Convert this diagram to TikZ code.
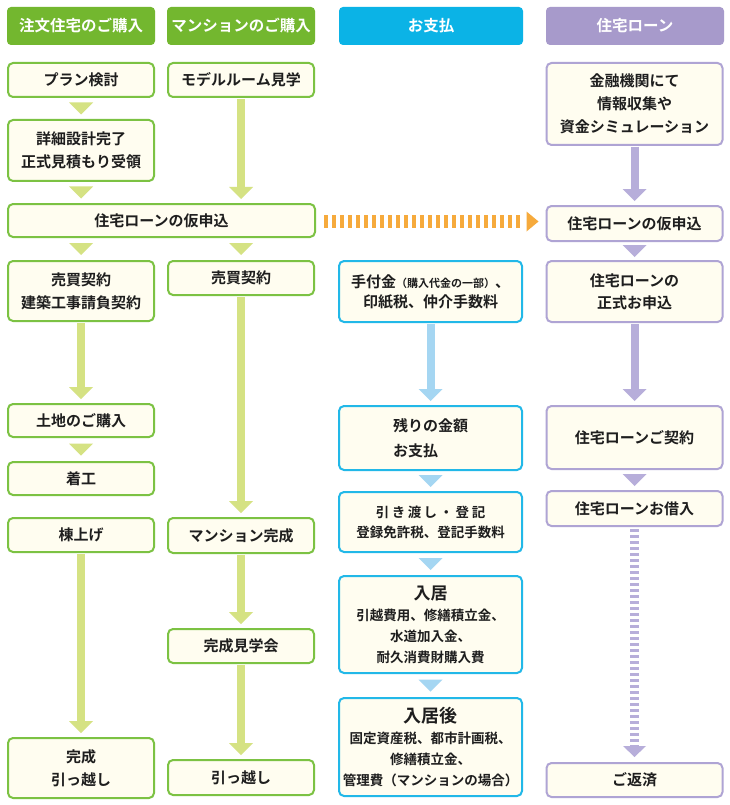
\documentclass[tikz,border=0pt]{standalone}
\usepackage{fontspec}
\setmainfont{Noto Sans CJK JP}[BoldFont={Noto Sans CJK JP Bold}]
\usetikzlibrary{arrows.meta,calc}
\definecolor{gHead}{HTML}{73B72F}
\definecolor{gLine}{HTML}{7CC243}
\definecolor{gArr}{HTML}{D5E283}
\definecolor{bHead}{HTML}{0BB3E6}
\definecolor{bLine}{HTML}{22B8E8}
\definecolor{bArr}{HTML}{A5D6F2}
\definecolor{pHead}{HTML}{A79ACB}
\definecolor{pLine}{HTML}{AFA4D4}
\definecolor{pArr}{HTML}{B7AEDA}
\definecolor{oArr}{HTML}{F6AA3C}
\definecolor{cream}{HTML}{FFFDF0}
\definecolor{ink}{HTML}{1E1E1E}
\begin{document}
\begin{tikzpicture}[x=1pt,y=-1pt,
  head/.style={fill=#1, rounded corners=4pt, text=white, font=\bfseries\fontsize{15.5}{18}\selectfont, minimum height=38pt, inner sep=0pt},
  box/.style={draw=#1, line width=2pt, fill=cream, rounded corners=5pt, text=ink, font=\bfseries\fontsize{15}{23}\selectfont, align=center, inner sep=0pt},
  gbox/.style={box=gLine, minimum width=146pt},
  bbox/.style={box=bLine, minimum width=183pt},
  pbox/.style={box=pLine, minimum width=176pt},
  tri/.style={fill=#1, to path={let \p1=($(\tikztostart)!0.5!(\tikztotarget)$) in (\x1-12pt,\y1+6pt) -- (\x1+12pt,\y1+6pt) -- (\x1,\y1-6pt) -- cycle}},
  shaft/.style={draw=#1, line width=8pt, -{Triangle[width=24pt,length=12pt,line width=0pt]}, shorten <=1pt, shorten >=4pt},
  small/.style={font=\bfseries\fontsize{13.5}{21}\selectfont}
]
\useasboundingbox (0,0) rectangle (730,805);
\fill[white] (0,0) rectangle (730,805);

% headers
\node[head=gHead, minimum width=148pt] (hd1) at (81,26) {注文住宅のご購入};
\node[head=gHead, minimum width=148pt] (hd2) at (241,26) {マンションのご購入};
\node[head=bHead, minimum width=184pt] (hd3) at (431,26) {お支払};
\node[head=pHead, minimum width=178pt] (hd4) at (635,26) {住宅ローン};

% boxes
\node[gbox, minimum height=34pt] (A1) at (81,80) {プラン検討};
\node[gbox, minimum height=34pt] (A2) at (241,80) {モデルルーム見学};
\node[pbox, minimum height=82pt] (A3) at (634.5,104) {金融機関にて\\情報収集や\\資金シミュレーション};
\node[gbox, minimum height=61pt] (B1) at (81,150.5) {詳細設計完了\\正式見積もり受領};
\node[gbox, minimum width=307pt, minimum height=33pt] (C1) at (161.5,220.5) {住宅ローンの仮申込};
\node[pbox, minimum height=35pt] (C4) at (634.5,223.5) {住宅ローンの仮申込};
\node[gbox, minimum height=60pt] (D1) at (81,291) {売買契約\\建築工事請負契約};
\node[gbox, minimum height=34pt] (D2) at (241,278) {売買契約};
\node[bbox, minimum height=61pt, font=\bfseries\fontsize{15}{20}\selectfont] (D3) at (430.5,291.5) {手付金{\fontsize{11}{20}\selectfont（購入代金の一部）}、\\印紙税、仲介手数料};
\node[pbox, minimum height=61pt, font=\bfseries\fontsize{15}{22}\selectfont] (D4) at (634.5,291.5) {住宅ローンの\\正式お申込};
\node[gbox, minimum height=33pt] (E1) at (81,420.5) {土地のご購入};
\node[bbox, minimum height=64pt, align=left, font=\bfseries\fontsize{15}{25}\selectfont] (E3) at (430.5,438) {残りの金額\\お支払};
\node[pbox, minimum height=63pt] (E4) at (634.5,437.5) {住宅ローンご契約};
\node[gbox, minimum height=33pt] (F1) at (81,478.5) {着工};
\node[bbox, minimum height=60pt, small, font=\bfseries\fontsize{13.5}{20}\selectfont] (F3) at (430.5,522) {引\hspace{2.5pt}き\hspace{2.5pt}渡\hspace{2.5pt}し\hspace{2.5pt}・\hspace{2.5pt}登\hspace{2.5pt}記\\登録免許税、登記手数料};
\node[pbox, minimum height=35pt] (F4) at (634.5,508.5) {住宅ローンお借入};
\node[gbox, minimum height=34pt] (G1) at (81,535) {棟上げ};
\node[gbox, minimum height=35pt] (G2) at (241,535.5) {マンション完成};
\node[gbox, minimum height=34pt] (H2) at (241,646) {完成見学会};
\node[bbox, minimum height=97pt, small] (H3) at (430.5,624.5) {{\fontsize{17}{20}\selectfont 入居}\\引越費用、修繕積立金、\\水道加入金、\\耐久消費財購入費};
\node[gbox, minimum height=60pt] (I1) at (81,768) {完成\\引っ越し};
\node[gbox, minimum height=35pt] (I2) at (241,777.5) {引っ越し};
\node[bbox, minimum height=98pt, small] (I3) at (430.5,747) {{\fontsize{18}{22}\selectfont 入居後}\\固定資産税、都市計画税、\\修繕積立金、\\管理費（マンションの場合）};
\node[pbox, minimum height=34pt] (I4) at (634.5,780) {ご返済};

% long arrows
\draw[shaft=gArr] (A2.south) -- (A2.south |- C1.north);
\draw[shaft=gArr] (D1.south) -- (E1.north);
\draw[shaft=gArr] (D2.south) -- (G2.north);
\draw[shaft=gArr] (G1.south) -- (I1.north);
\draw[shaft=gArr] (G2.south) -- (H2.north);
\draw[shaft=gArr] (H2.south) -- (I2.north);
\draw[shaft=bArr] (D3.south) -- (E3.north);
\draw[shaft=pArr] (A3.south) -- (C4.north);
\draw[shaft=pArr] (D4.south) -- (E4.north);

% small triangles
\path[tri=gArr] (A1.south) to (B1.north);
\path[tri=gArr] (B1.south) to (B1.south |- C1.north);
\path[tri=gArr] (D1.north |- C1.south) to (D1.north);
\path[tri=gArr] (D2.north |- C1.south) to (D2.north);
\path[tri=gArr] (E1.south) to (F1.north);
\path[tri=bArr] (E3.south) to (F3.north);
\path[tri=bArr] (F3.south) to (H3.north);
\path[tri=bArr] (H3.south) to (I3.north);
\path[tri=pArr] (C4.south) to (D4.north);
\path[tri=pArr] (E4.south) to (F4.north);

% orange striped arrow
\coordinate (oEnd) at ([yshift=-1pt]C4.west |- C1.east);
\draw[oArr, line width=13pt, dash pattern=on 4pt off 4pt, shorten <=8pt, shorten >=26pt] ([yshift=-1pt]C1.east) -- (oEnd);
\fill[oArr] ($(oEnd)+(-19,-10)$) -- ($(oEnd)+(-19,10)$) -- ($(oEnd)+(-7,0)$) -- cycle;

% purple striped arrow
\draw[pArr, line width=9pt, dash pattern=on 2.5pt off 3.5pt, -{Triangle[width=23pt,length=11pt,line width=0pt]}, shorten <=2pt, shorten >=5pt] (F4.south) -- (I4.north);
\end{tikzpicture}
\end{document}
